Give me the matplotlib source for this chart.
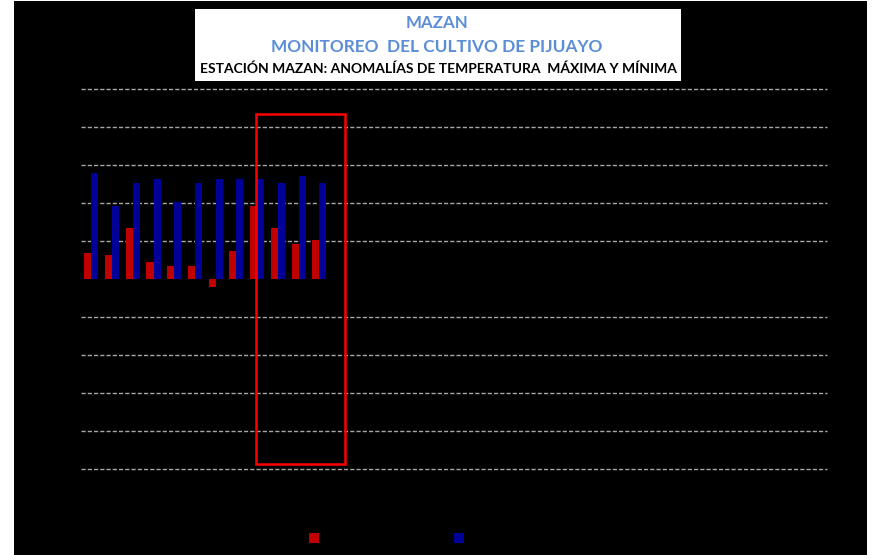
import matplotlib
matplotlib.use("Agg")
import matplotlib.pyplot as plt
from matplotlib.patches import Rectangle
import numpy as np

# 36 dekads of the year; only the first 12 have data
months = ["Ene", "Feb", "Mar", "Abr", "May", "Jun", "Jul", "Ago", "Sep", "Oct", "Nov", "Dic"]
dekads = [f"{m}-{d}" for m in months for d in ("I", "II", "III")]

anom_tmax = [0.68, 0.63, 1.33, 0.44, 0.33, 0.33, -0.22, 0.74, 1.93, 1.33, 0.93, 1.03]
anom_tmin = [2.78, 1.93, 2.53, 2.62, 2.03, 2.53, 2.62, 2.62, 2.62, 2.53, 2.72, 2.53]

# highlighted window (dekad index range) and y range
highlight_x = (7.95, 12.25)
highlight_y = (-4.87, 4.34)

RED = "#C00000"
BLUE = "#000099"

fig = plt.figure(figsize=(8.72, 5.55), dpi=100, facecolor="white")
# black chart area inside a thin white frame
fig.patches.append(Rectangle((14 / 872, 0), (867 - 14) / 872, 554 / 555,
                             transform=fig.transFigure, facecolor="black",
                             edgecolor="none", zorder=-5))

ax = fig.add_axes([81 / 872, 86 / 555, 746 / 872, 380 / 555])
ax.set_facecolor("black")
for s in ax.spines.values():
    s.set_visible(False)

x = np.arange(len(anom_tmax))
w = 0.34
ax.bar(x - w / 2, anom_tmax, width=w, color=RED, zorder=3, label="Anomalía Tmax")
ax.bar(x + w / 2, anom_tmin, width=w, color=BLUE, zorder=3, label="Anomalía Tmin")

ax.set_xlim(-0.5, len(dekads) - 0.5)
ax.set_ylim(-5, 5)
ax.set_xticks(range(len(dekads)))
ax.set_xticklabels(dekads, color="black", fontsize=6, rotation=90)
ax.set_yticks(range(-5, 6))
ax.tick_params(colors="black", length=0, labelcolor="black")
ax.yaxis.grid(True, color="#a8a8a8", linestyle=(0, (3, 1.5)), linewidth=1.0, zorder=1)
ax.set_axisbelow(True)
# no gridline on the zero line; keep edge lines unclipped
for val, gl in zip(ax.get_yticks(), ax.yaxis.get_gridlines()):
    gl.set_clip_on(False)
    if val == 0:
        gl.set_visible(False)

ax.add_patch(Rectangle((highlight_x[0], highlight_y[0]),
                       highlight_x[1] - highlight_x[0], highlight_y[1] - highlight_y[0],
                       fill=False, edgecolor="#FF0000", linewidth=1.8, zorder=5))

# title box
fig.patches.append(Rectangle((195 / 872, 1 - 81 / 555), (681 - 195) / 872, 72 / 555,
                             transform=fig.transFigure, facecolor="white",
                             edgecolor="none", zorder=1))
tfont = ["Lato", "DejaVu Sans"]
fig.text(437 / 872, 1 - 23 / 555, "MAZAN", ha="center", va="center",
         color="#5B8ED6", fontsize=12.2, fontweight="bold", family=tfont, zorder=2)
fig.text(437 / 872, 1 - 47 / 555, "MONITOREO  DEL CULTIVO DE PIJUAYO", ha="center", va="center",
         color="#5B8ED6", fontsize=12.4, fontweight="bold", family=tfont, zorder=2)
fig.text(438 / 872, 1 - 69 / 555, "ESTACIÓN MAZAN: ANOMALÍAS DE TEMPERATURA  MÁXIMA Y MÍNIMA",
         ha="center", va="center", color="black", fontsize=10, fontweight="bold",
         family=tfont, zorder=2)

leg = fig.legend(loc="center left", bbox_to_anchor=(298 / 872, 1 - 539 / 555), ncol=2,
                 frameon=False, fontsize=9, handlelength=0.8, handleheight=0.8,
                 columnspacing=2.45, handletextpad=0.5)
for t in leg.get_texts():
    t.set_color("black")

fig.savefig("out.png", dpi=100, facecolor="white")
